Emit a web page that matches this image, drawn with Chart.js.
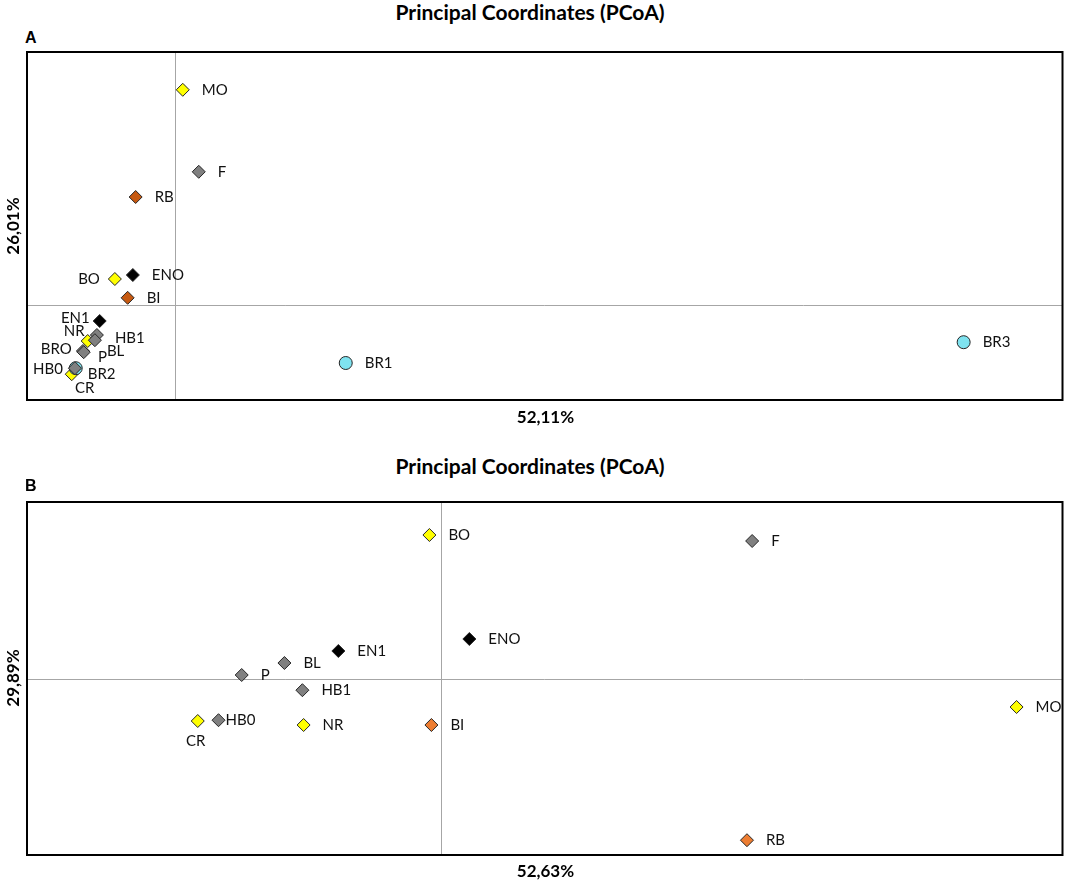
<!DOCTYPE html>
<html lang="en">
<head>
  <meta charset="UTF-8">
  <title>Principal Coordinates (PCoA)</title>
  <script src="https://cdn.jsdelivr.net/npm/chart.js"></script>
  <style>
    body { margin: 0; background: #fff; }
    #page { position: relative; width: 1070px; height: 884px; font-family: Lato, "Noto Sans", sans-serif; color: #000; }
    canvas { position: absolute; left: 0; }
    .title { position: absolute; left: -5px; width: 1070px; text-align: center; font-weight: bold; font-size: 21px; line-height: 24px; }
    .panel { position: absolute; left: 25px; font-family: "Liberation Sans", Arial, sans-serif; font-weight: bold; font-size: 16px; line-height: 16px; }
    .xlab { position: absolute; left: 27px; width: 1037px; text-align: center; font-weight: bold; font-size: 17px; line-height: 20px; }
    .ylab { position: absolute; width: 100px; text-align: center; font-weight: bold; font-size: 17px; line-height: 20px; transform: rotate(-90deg); }
  </style>
</head>
<body>
<div id="page">
  <div class="title" style="top:0px">Principal Coordinates (PCoA)</div>
  <div class="panel" style="top:30px">A</div>
  <canvas id="chartA" width="1070" height="430" style="top:0"></canvas>
  <div class="xlab" style="top:407px">52,11%</div>
  <div class="ylab" style="left:-37px;top:216px">26,01%</div>

  <div class="title" style="top:454px">Principal Coordinates (PCoA)</div>
  <div class="panel" style="top:478px">B</div>
  <canvas id="chartB" width="1070" height="439" style="top:445px"></canvas>
  <div class="xlab" style="top:861px">52,63%</div>
  <div class="ylab" style="left:-37px;top:668px">29,89%</div>
</div>

<script>
  // panel A
  const samplesA = ['HB1', 'BL', 'P', 'BRO', 'HB0', 'F', 'EN1', 'ENO', 'RB', 'BI', 'BR1', 'BR2', 'BR3', 'MO', 'BO', 'NR', 'CR'];
  const xA = [-0.195, -0.200, -0.230, -0.228, -0.250, 0.060, -0.188, -0.105, -0.098, -0.118, 0.428, -0.248, 1.975, 0.020, -0.150, -0.218, -0.258];
  const yA = [-0.075, -0.088, -0.115, -0.118, -0.158, 0.333, -0.040, 0.075, 0.270, 0.018, -0.145, -0.158, -0.093, 0.538, 0.065, -0.090, -0.173];
  const groupA = ['gray', 'gray', 'gray', 'gray', 'gray', 'gray', 'black', 'black', 'orange', 'orange', 'cyan', 'cyan', 'cyan', 'yellow', 'yellow', 'yellow', 'yellow'];
  const rangeA = { xmin: -0.37, xmax: 2.2225, ymin: -0.2375, ymax: 0.6325 };

  // panel B
  const samplesB = ['F', 'BL', 'P', 'HB1', 'HB0', 'ENO', 'EN1', 'BI', 'RB', 'BO', 'MO', 'NR', 'CR'];
  const xB = [0.778, -0.393, -0.500, -0.348, -0.558, 0.070, -0.258, -0.025, 0.765, -0.030, 1.440, -0.345, -0.610];
  const yB = [0.345, 0.040, 0.010, -0.028, -0.103, 0.100, 0.070, -0.115, -0.403, 0.360, -0.070, -0.115, -0.105];
  const groupB = ['gray', 'gray', 'gray', 'gray', 'gray', 'black', 'black', 'orange', 'orange', 'yellow', 'yellow', 'yellow', 'yellow'];
  const rangeB = { xmin: -1.0375, xmax: 1.555, ymin: -0.44, ymax: 0.4425 };

  const drawOrder = ['gray', 'black', 'orange', 'cyan', 'yellow'];

  // label placement [dx, dy, align], default is to the right of the marker
  const placeA = {
    BO: [-15, 0, 'right'], EN1: [-10, -3, 'right'], NR: [-3, -10, 'right'],
    HB1: [18, 3, 'left'], BRO: [-12, -3, 'right'], P: [15, 6, 'left'],
    BL: [12, 11, 'left'], HB0: [-12, 1, 'right'], BR2: [12, 6, 'left'],
    CR: [13, 14, 'center']
  };
  const placeB = { HB0: [7, 0, 'left'], CR: [-2, 20, 'center'] };

  function styleFor(group, panel) {
    const fill = {
      gray: '#808080', black: '#000000', cyan: '#7FE3F0', yellow: '#FFFF00',
      orange: panel === 'A' ? '#C65911' : '#ED7D31'
    };
    return {
      backgroundColor: fill[group],
      borderColor: '#262626',
      borderWidth: 1,
      pointStyle: group === 'cyan' ? 'circle' : 'rectRot',
      pointRadius: 6.5
    };
  }

  const frame = {
    id: 'frame',
    beforeDatasetsDraw(chart) {
      const { ctx, chartArea: a, scales } = chart;
      const x0 = scales.x.getPixelForValue(0);
      const y0 = scales.y.getPixelForValue(0);
      ctx.save();
      ctx.strokeStyle = '#a6a6a6';
      ctx.lineWidth = 1;
      ctx.beginPath();
      ctx.moveTo(Math.round(x0) + 0.5, a.top);
      ctx.lineTo(Math.round(x0) + 0.5, a.bottom);
      ctx.moveTo(a.left, Math.round(y0) + 0.5);
      ctx.lineTo(a.right, Math.round(y0) + 0.5);
      ctx.stroke();
      ctx.strokeStyle = '#000';
      ctx.lineWidth = 2;
      ctx.strokeRect(a.left, a.top, a.right - a.left, a.bottom - a.top);
      ctx.restore();
    },
    afterDatasetsDraw(chart, args, opts) {
      const { ctx, chartArea: a, scales } = chart;
      ctx.save();
      ctx.beginPath();
      ctx.rect(a.left, a.top, a.right - a.left - 1, a.bottom - a.top);
      ctx.clip();
      ctx.font = '15px Lato, "Noto Sans", sans-serif';
      ctx.fillStyle = '#111';
      ctx.textBaseline = 'middle';
      opts.names.forEach((name, i) => {
        const p = opts.place[name] || [19, 0, 'left'];
        ctx.textAlign = p[2];
        ctx.fillText(name, scales.x.getPixelForValue(opts.xs[i]) + p[0], scales.y.getPixelForValue(opts.ys[i]) + p[1]);
      });
      ctx.restore();
    }
  };

  function makeChart(id, panel, names, xs, ys, groups, range, place, pad) {
    const datasets = drawOrder.map(g => {
      const pts = [];
      names.forEach((n, i) => { if (groups[i] === g) pts.push({ x: xs[i], y: ys[i] }); });
      return Object.assign({ label: g, data: pts }, styleFor(g, panel));
    }).filter(d => d.data.length);

    new Chart(document.getElementById(id), {
      type: 'scatter',
      data: { datasets },
      options: {
        responsive: false,
        animation: false,
        layout: { padding: pad },
        plugins: {
          legend: { display: false },
          tooltip: { enabled: false },
          frame: { names, xs, ys, place }
        },
        scales: {
          x: {
            min: range.xmin, max: range.xmax,
            grid: { display: false, drawTicks: false },
            border: { display: false },
            ticks: { display: false }
          },
          y: {
            min: range.ymin, max: range.ymax,
            grid: { display: false, drawTicks: false },
            border: { display: false },
            ticks: { display: false }
          }
        }
      },
      plugins: [frame]
    });
  }

  makeChart('chartA', 'A', samplesA, xA, yA, groupA, rangeA, placeA, { left: 27, right: 6, top: 52, bottom: 30 });
  makeChart('chartB', 'B', samplesB, xB, yB, groupB, rangeB, placeB, { left: 27, right: 6, top: 57, bottom: 29 });
</script>
</body>
</html>
